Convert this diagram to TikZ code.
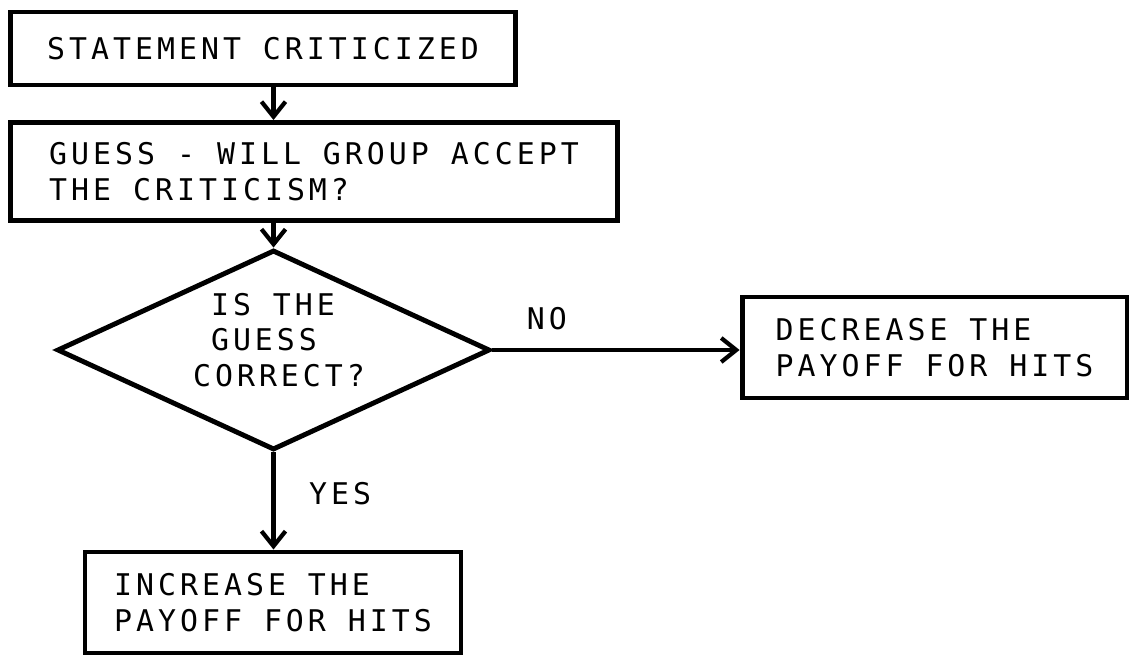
\documentclass[tikz,border=0pt]{standalone}
\usepackage{fontspec}
\usepackage{tikz}
\usetikzlibrary{shapes.geometric,arrows.meta}
\newfontfamily\typer{DejaVu Sans Mono}[LetterSpace=13.4]

\tikzset{
  box/.style={draw, line width=2.8pt, align=left, inner sep=0pt},
  flow/.style={line width=2.4pt, -{Straight Barb[length=0.3cm,width=0.48cm,line width=2.4pt]}},
  lbl/.style={inner sep=0pt, align=left}
}

\begin{document}
\begin{tikzpicture}[x=0.02cm,y=-0.02cm,font=\typer\fontsize{17}{20.2}\selectfont]
\useasboundingbox (0,0) rectangle (1132,655);

\foreach \x/\y/\w/\h/\name/\txt in {263/48.5/10.12/1.46/crit/{STATEMENT CRITICIZED},
 314/171.5/12.16/1.96/guess/{GUESS - WILL GROUP ACCEPT\\THE CRITICISM?},
 934.5/347.5/7.7/2.02/dec/{DECREASE THE\\PAYOFF FOR HITS},
 273/602.5/7.52/2.02/inc/{INCREASE THE\\PAYOFF FOR HITS}}{
 \node[box, minimum width=\w cm, minimum height=\h cm] (\name) at (\x,\y) {\txt};
 }
\node[box, diamond, minimum width=8.66cm, minimum height=4cm] (dia) at (273.5,350) {};
\node[lbl] (ask) at (279,340) {\phantom{C}IS THE\\\phantom{C}GUESS\\CORRECT?};

\draw[flow] (crit.south -| dia.north) -- (guess.north -| dia.north);
\draw[flow] (guess.south -| dia.north) -- (dia.north);
\draw[flow] (dia.east) -- node[lbl, pos=0.22, above=0.35cm] (no) {NO} (dia.east -| dec.west);
\draw[flow] (dia.south) -- node[lbl, pos=0.42, right=0.67cm] (yes) {YES} (dia.south |- inc.north);

\end{tikzpicture}
\end{document}
